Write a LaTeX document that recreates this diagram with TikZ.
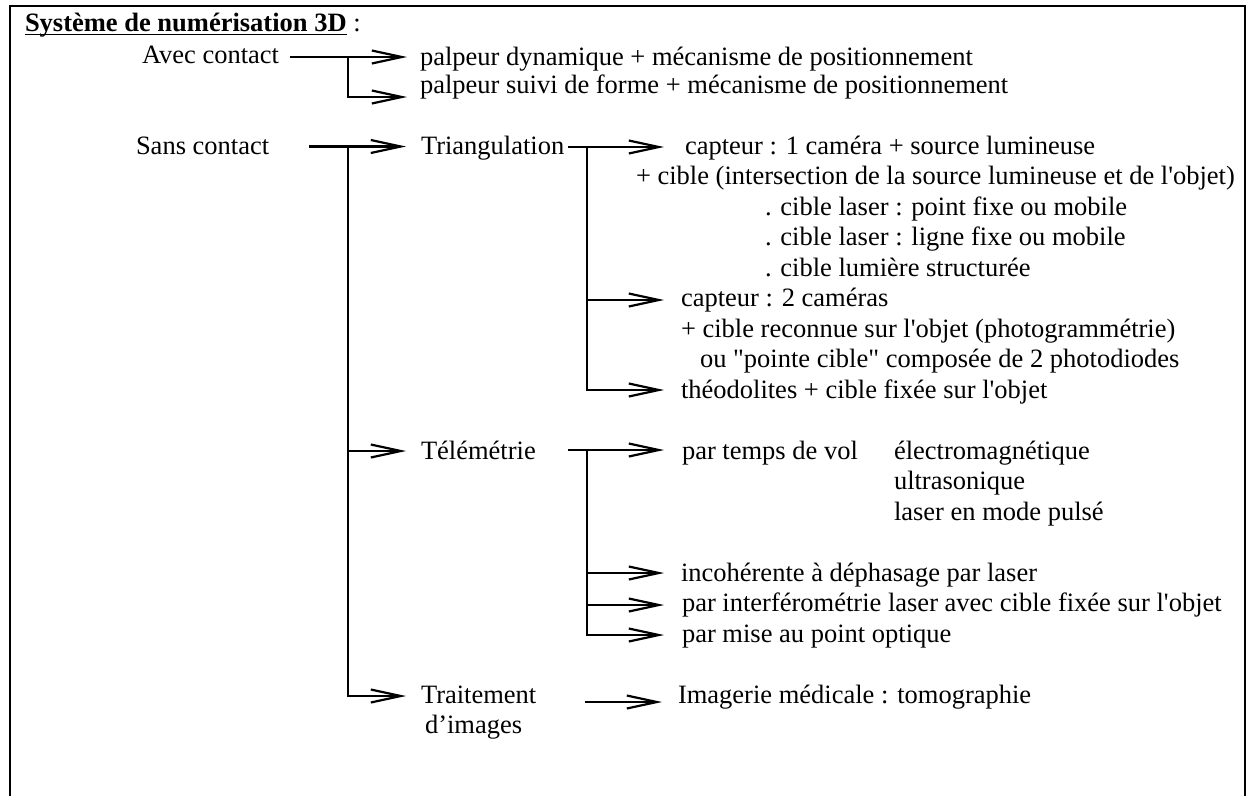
\documentclass[tikz,border=0pt]{standalone}
\usepackage{fontspec}
\setmainfont{Liberation Serif}[Ligatures=TeXOff]
\usetikzlibrary{arrows.meta}
\begin{document}
\begin{tikzpicture}[x=1pt,y=-1pt,
  txt/.style={anchor=base west,inner sep=0pt,outer sep=0pt,font=\fontsize{26.5}{30.5}\selectfont},
  link/.style={line width=2.2pt,line cap=butt,line join=miter},
  arr/.style={link,-{Straight Barb[length=30pt,width=13pt]}},
  frame/.style={line width=2.6pt}]
\useasboundingbox (0,0) rectangle (1249,796);
\draw[frame] (10,796) -- (10,6) -- (1245,6) -- (1245,796);
% title
\node[txt,font=\fontsize{26.5}{30.5}\selectfont\bfseries] (title) at (25,31) {Système de numérisation 3D};
\draw[line width=1.8pt] ([yshift=-3.5pt]title.base west) -- ([yshift=-3.5pt]title.base east);
\node[txt] (colon) at (title.base east) {\ :};
% avec contact
\node[txt] (avec) at (142,63) {Avec contact};
\node[txt] (pd) at (420,65) {palpeur dynamique + mécanisme de positionnement};
\node[txt] (ps) at (420,93.5) {palpeur suivi de forme + mécanisme de positionnement};
% sans contact
\node[txt] (sans) at (136,154) {Sans contact};
\node[txt] (tri) at (421,154) {Triangulation};
\node[txt] (c1) at (685,154) {capteur : 1 caméra + source lumineuse};
\node[txt] (c1b) at (636,184.5) {+ cible (intersection de la source lumineuse et de l'objet)};
\node[txt] (c1c) at (765,215) {. cible laser : point fixe ou mobile};
\node[txt] (c1d) at (765,245.5) {. cible laser : ligne fixe ou mobile};
\node[txt] (c1e) at (765,276) {. cible lumière structurée};
\node[txt] (c2) at (681,306.5) {capteur : 2 caméras};
\node[txt] (c2b) at (681,337) {+ cible reconnue sur l'objet (photogrammétrie)};
\node[txt] (c2c) at (700,367.5) {ou "pointe cible" composée de 2 photodiodes};
\node[txt] (theo) at (681,398) {théodolites + cible fixée sur l'objet};
\node[txt] (tele) at (421,459) {Télémétrie};
\node[txt] (tv) at (682,459) {par temps de vol};
\node[txt] (em) at (894,459) {électromagnétique};
\node[txt] (us) at (894,489.5) {ultrasonique};
\node[txt] (lp) at (894,520) {laser en mode pulsé};
\node[txt] (inc) at (681,581) {incohérente à déphasage par laser};
\node[txt] (itf) at (682,611.5) {par interférométrie laser avec cible fixée sur l'objet};
\node[txt] (mise) at (682,642) {par mise au point optique};
\node[txt] (trt) at (421,703) {Traitement};
\node[txt] (dim) at (425,733.5) {d’images};
\node[txt] (img) at (678,703) {Imagerie médicale : tomographie};
% connector coordinates
\coordinate (a0) at (290,57);
\coordinate (aJ) at (348,57);
\coordinate (aT1) at (407,57);
\coordinate (aT2) at (407,97);
\coordinate (s0) at (309,146.5);
\coordinate (sJ) at (348,146.5);
\coordinate (sT1) at (406,146.5);
\coordinate (sT2) at (406,451);
\coordinate (sT3) at (406,696);
\coordinate (t0) at (568,147);
\coordinate (tJ) at (587,147);
\coordinate (tT1) at (664,147);
\coordinate (tT2) at (664,300);
\coordinate (tT3) at (664,390);
\coordinate (e0) at (568,450);
\coordinate (eJ) at (587,450);
\coordinate (eT1) at (664,450);
\coordinate (eT2) at (664,573);
\coordinate (eT3) at (664,605);
\coordinate (eT4) at (664,635);
\coordinate (r0) at (585,702);
\coordinate (rT) at (662,702);
% connectors
\draw[arr] (a0) -- (aT1);
\draw[arr] (aJ) |- (aT2);
\draw[arr] (s0) -- (sT1);
\draw[arr] (sJ) |- (sT3);
\draw[arr] (sJ |- sT2) -- (sT2);
\draw[arr] (t0) -- (tT1);
\draw[arr] (tJ) |- (tT3);
\draw[arr] (tJ |- tT2) -- (tT2);
\draw[arr] (e0) -- (eT1);
\draw[arr] (eJ) |- (eT4);
\draw[arr] (eJ |- eT2) -- (eT2);
\draw[arr] (eJ |- eT3) -- (eT3);
\draw[arr] (r0) -- (rT);
\end{tikzpicture}
\end{document}
